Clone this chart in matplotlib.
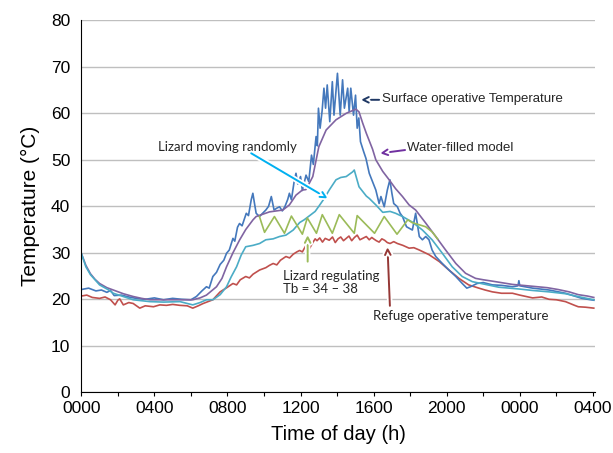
import matplotlib
matplotlib.use("Agg")
import matplotlib.pyplot as plt
import matplotlib.patheffects as pe

# hour of day (0-28, runs past midnight) vs temperature (deg C)
surface = [(0, 22.1), (0.4, 22.4), (0.8, 21.8), (1.1, 22.0), (1.4, 21.5), (1.6, 21.9), (1.8, 20.8),
           (2.2, 20.9), (2.6, 20.5), (3.0, 20.2), (3.5, 20.0), (4.0, 20.3), (4.5, 19.9), (5.0, 20.2),
           (5.5, 20.0), (6.0, 19.9), (6.3, 20.6), (6.6, 21.8), (6.85, 22.7), (7.0, 22.4), (7.2, 24.9),
           (7.4, 25.8), (7.6, 27.5), (7.8, 28.4), (7.95, 29.9), (8.1, 30.6), (8.3, 33.1), (8.4, 32.5),
           (8.55, 35.5), (8.66, 36.3), (8.8, 35.8), (9.03, 38.5), (9.15, 38.0), (9.3, 41.4),
           (9.39, 42.8), (9.48, 40.6), (9.57, 38.5), (9.75, 37.8), (9.9, 38.4), (10.1, 39.2),
           (10.25, 40.0), (10.4, 42.1), (10.55, 39.2), (10.7, 39.6), (10.85, 39.9), (11.0, 39.0),
           (11.15, 40.0), (11.3, 41.5), (11.39, 42.8), (11.5, 41.4), (11.66, 45.6), (11.75, 47.1),
           (11.85, 44.8), (12.0, 46.4), (12.1, 43.4), (12.3, 46.7), (12.45, 45.3), (12.6, 51.0),
           (12.7, 49.0), (12.85, 55.0), (12.92, 53.0), (12.98, 61.1), (13.07, 56.8), (13.18, 60.5),
           (13.28, 65.4), (13.37, 61.1), (13.46, 66.1), (13.6, 58.2), (13.74, 66.8), (13.83, 59.6),
           (14.02, 68.6), (14.17, 59.6), (14.3, 67.2), (14.4, 61.1), (14.58, 65.4), (14.66, 60.4),
           (14.75, 65.4), (14.9, 59.6), (15.01, 63.9), (15.1, 56.8), (15.19, 59.0), (15.28, 53.9),
           (15.45, 51.8), (15.58, 50.3), (15.76, 47.1), (15.9, 45.7), (16.12, 43.5), (16.3, 40.6),
           (16.4, 42.1), (16.58, 39.9), (16.75, 43.5), (16.89, 45.7), (17.0, 42.8), (17.1, 40.6),
           (17.3, 39.9), (17.45, 38.5), (17.58, 37.8), (17.8, 35.6), (18.12, 34.9), (18.3, 38.5),
           (18.5, 33.5), (18.67, 32.8), (18.85, 33.5), (19.03, 32.8), (19.2, 30.6), (19.4, 29.2),
           (19.76, 27.7), (20.12, 26.3), (20.5, 24.9), (20.85, 23.4), (21.1, 22.4), (21.3, 22.7),
           (21.66, 23.4), (22.0, 23.6), (22.5, 23.1), (23.0, 23.0), (23.6, 22.7), (23.9, 22.9),
           (23.95, 24.0), (24.0, 22.9), (24.7, 22.4), (25.6, 22.0), (26.5, 21.3), (27.4, 20.2),
           (28.05, 19.8)]

water_model = [(0, 29.9), (0.25, 27.3), (0.5, 25.5), (0.75, 24.3), (1.0, 23.4), (1.4, 22.5),
               (1.75, 22.0), (2.3, 21.2), (2.84, 20.6), (3.3, 20.2), (3.75, 19.9), (5.0, 19.9),
               (6.1, 19.9), (6.5, 20.3), (6.85, 20.9), (7.4, 22.7), (7.7, 24.5), (7.95, 27.0),
               (8.3, 30.0), (8.67, 32.8), (9.0, 35.0), (9.4, 37.1), (9.57, 37.8), (10.3, 38.8),
               (11.03, 39.2), (11.39, 40.3), (11.75, 42.4), (12.1, 43.5), (12.3, 43.6),
               (12.67, 46.4), (13.0, 52.8), (13.4, 56.4), (13.94, 58.6), (14.5, 60.0), (15.03, 60.9),
               (15.2, 60.3), (15.4, 57.9), (15.6, 55.7), (15.94, 52.3), (16.12, 50.0), (16.5, 47.5),
               (16.85, 45.7), (17.2, 43.8), (17.58, 42.1), (17.94, 40.3), (18.3, 39.2), (18.85, 36.4),
               (19.4, 33.5), (19.94, 30.6), (20.5, 27.7), (21.03, 25.6), (21.58, 24.5), (22.0, 24.2),
               (22.5, 23.9), (23.6, 23.2), (24.7, 22.8), (25.5, 22.5), (26.1, 22.1), (26.7, 21.6),
               (27.2, 21.0), (27.7, 20.7), (28.05, 20.4)]

lizard_random = [(0, 29.9), (0.25, 27.0), (0.5, 25.3), (1.0, 23.1), (1.5, 22.0), (1.75, 21.3),
                 (2.84, 19.9), (3.75, 19.5), (4.5, 19.4), (5.4, 19.5), (6.1, 18.8), (6.5, 19.3),
                 (6.85, 19.9), (7.2, 19.9), (7.6, 21.0), (7.95, 22.7), (8.2, 24.8), (8.5, 27.0),
                 (8.75, 29.5), (9.0, 31.3), (9.4, 31.6), (9.76, 32.0), (10.1, 32.8), (10.5, 33.0),
                 (10.85, 33.5), (11.2, 33.8), (11.6, 34.9), (11.95, 36.5), (12.2, 37.1), (12.5, 38.0),
                 (12.8, 38.9), (13.0, 40.0), (13.3, 41.7), (13.57, 43.5), (13.94, 45.7), (14.2, 46.2),
                 (14.5, 46.4), (14.85, 47.4), (14.94, 47.8), (15.2, 44.2), (15.6, 42.2), (15.76, 41.7),
                 (16.12, 40.3), (16.5, 38.7), (16.9, 38.9), (17.2, 38.5), (17.58, 37.8), (18.12, 36.6),
                 (18.67, 34.9), (19.2, 32.8), (19.76, 29.9), (20.3, 27.0), (20.85, 24.9), (21.4, 23.8),
                 (21.76, 23.5), (22.85, 22.6), (24.0, 22.2), (24.7, 21.9), (25.6, 21.6), (26.5, 21.2),
                 (27.3, 20.5), (28.05, 19.9)]

lizard_regulating = [(9.75, 37.8), (10.03, 34.4), (10.57, 37.8), (11.12, 34.2), (11.5, 37.9),
                     (12.1, 34.0), (12.37, 37.5), (12.87, 34.2), (13.19, 38.2), (13.74, 34.2),
                     (14.12, 38.2), (14.94, 34.2), (15.1, 38.0), (16.05, 34.2), (16.58, 37.8),
                     (17.28, 34.0), (17.87, 37.1), (18.1, 36.5), (18.85, 35.6), (19.2, 34.5),
                     (19.5, 33.0)]

refuge = [(0, 20.7), (0.3, 20.9), (0.6, 20.4), (1.0, 20.2), (1.3, 20.5), (1.6, 19.9), (1.85, 18.8),
          (2.0, 19.8), (2.1, 20.1), (2.3, 18.8), (2.6, 19.3), (2.84, 19.1), (3.2, 18.1), (3.5, 18.6),
          (3.95, 18.4), (4.3, 18.8), (4.66, 18.7), (5.0, 18.9), (5.4, 18.7), (5.8, 18.6), (6.1, 18.1),
          (6.4, 18.6), (6.67, 19.1), (7.2, 19.9), (7.6, 21.6), (8.0, 22.6), (8.3, 23.4), (8.5, 23.1),
          (8.7, 24.2), (9.0, 24.9), (9.2, 24.6), (9.4, 25.4), (9.6, 25.9), (9.76, 26.3),
          (10.1, 26.8), (10.3, 27.3), (10.5, 27.7), (10.7, 27.4), (10.9, 28.4), (11.2, 29.2),
          (11.4, 28.9), (11.6, 29.7), (11.8, 30.2), (11.95, 30.5), (12.1, 30.2), (12.3, 31.6),
          (12.5, 31.0), (12.67, 32.2), (12.8, 33.0), (12.9, 32.6), (13.05, 33.2), (13.2, 32.3),
          (13.35, 33.1), (13.57, 32.7), (13.75, 33.4), (13.9, 32.2), (14.05, 33.0), (14.2, 33.4),
          (14.35, 32.6), (14.5, 33.1), (14.65, 33.6), (14.8, 32.6), (14.95, 33.3), (15.1, 33.8),
          (15.25, 32.8), (15.4, 33.1), (15.6, 33.5), (15.76, 32.8), (15.9, 33.3), (16.0, 33.0),
          (16.15, 32.6), (16.3, 32.3), (16.45, 33.0), (16.6, 32.7), (16.75, 32.2), (16.9, 32.0),
          (17.1, 32.4), (17.3, 32.0), (17.6, 31.6), (17.94, 31.0), (18.2, 31.1), (18.5, 30.6),
          (19.03, 29.6), (19.6, 28.1), (20.12, 26.3), (20.67, 24.5), (21.2, 23.1), (21.76, 22.4),
          (22.1, 22.0), (22.5, 21.6), (23.0, 21.3), (23.6, 21.3), (24.0, 20.9), (24.7, 20.3),
          (25.2, 20.5), (25.6, 20.0), (26.0, 19.9), (26.5, 19.5), (27.0, 18.7), (27.2, 18.4),
          (27.6, 18.3), (28.05, 18.1)]

x_ticks = [0, 4, 8, 12, 16, 20, 24, 28]
x_tick_labels = ['0000', '0400', '0800', '1200', '1600', '2000', '0000', '0400']

series = [
    (refuge, '#C0504D'),
    (surface, '#4478BC'),
    (water_model, '#8064A2'),
    (lizard_random, '#4BACC6'),
    (lizard_regulating, '#9BBB59'),
]

fig = plt.figure(figsize=(6.13, 4.53), dpi=100)
ax = fig.add_axes([81.3 / 613, (453 - 392.3) / 453, (594.7 - 81.3) / 613, (392.3 - 20.3) / 453])

for data, color in series:
    hrs = [p[0] for p in data]
    temps = [p[1] for p in data]
    ax.plot(hrs, temps, color=color, lw=1.2, solid_joinstyle='round')

ax.set_xlim(0, 28.1)
ax.set_ylim(0, 80)
ax.set_yticks(range(0, 81, 10))
ax.set_xticks(x_ticks)
ax.set_xticklabels(x_tick_labels)
ax.set_xticks([2, 6, 10, 14, 18, 22, 26], minor=True)
ax.yaxis.grid(True, color='#BFBFBF', lw=1)
ax.set_axisbelow(True)
for s in ['top', 'right']:
    ax.spines[s].set_visible(False)
ax.tick_params(axis='both', which='both', direction='out', length=3, width=0.8,
               labelsize=12.5, colors='black')
ax.tick_params(axis='y', length=0, pad=8)
for lab in ax.get_xticklabels() + ax.get_yticklabels():
    lab.set_family('Liberation Sans')

ax.set_xlabel('Time of day (h)', fontsize=14.5, family='Liberation Sans', labelpad=6)
ax.set_ylabel('Temperature (°C)', fontsize=15, family='Liberation Sans', labelpad=8)

white_edge = [pe.Stroke(linewidth=4, foreground='white'), pe.Normal()]


def arrow(tail, tip, color):
    a = ax.annotate('', xy=tip, xytext=tail,
                    arrowprops=dict(arrowstyle='->', color=color, lw=1.4,
                                    shrinkA=0, shrinkB=0, mutation_scale=10))
    a.arrow_patch.set_path_effects(white_edge)


ax.text(4.19, 52.75, 'Lizard moving randomly', fontsize=9.5, family='Lato',
        color='#262626', ha='left', va='center')
arrow((9.3, 51.4), (13.48, 41.7), '#00B0F0')

ax.text(16.45, 63.1, 'Surface operative Temperature', fontsize=9.5, family='Liberation Sans',
        color='#262626', ha='left', va='center')
arrow((16.3, 62.9), (15.31, 62.9), '#1F3864')

ax.text(17.8, 52.5, 'Water-filled model', fontsize=9.5, family='Liberation Sans',
        color='#262626', ha='left', va='center')
arrow((17.72, 52.1), (16.36, 51.4), '#7030A0')

ax.text(11.03, 23.7, 'Lizard regulating\nTb = 34 – 38', fontsize=9.5, family='Lato',
        color='#262626', ha='left', va='center', linespacing=1.1)
arrow((12.39, 28.1), (12.39, 33.8), '#9BBB59')

ax.text(15.94, 16.4, 'Refuge operative temperature', fontsize=9.5, family='Lato',
        color='#262626', ha='left', va='center')
arrow((16.89, 18.6), (16.76, 31.2), '#953735')

fig.savefig('out.png', dpi=100)
